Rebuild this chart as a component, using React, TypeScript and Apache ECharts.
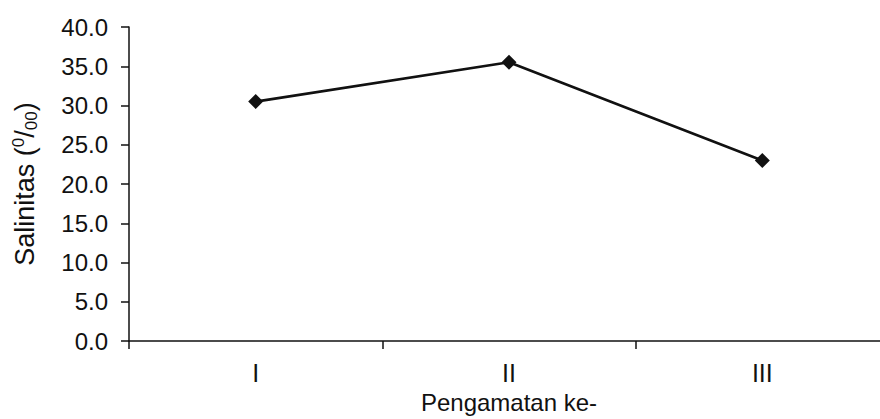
import React, { useEffect, useRef } from "react";
import * as echarts from "echarts";

const categories = ["I", "II", "III"];
const salinity = [30.5, 35.5, 23.0];
const yMin = 0;
const yMax = 40;
const yInterval = 5;

const FONT = "'Liberation Sans', Arial, sans-serif";

export default function App() {
  const ref = useRef<HTMLDivElement>(null);
  useEffect(() => {
    if (!ref.current) return;
    const chart = echarts.init(ref.current, undefined, { renderer: "svg" });
    const axisColor = "#111";
    chart.setOption({
      animation: false,
      backgroundColor: "#fff",
      grid: { left: 129, right: 1, top: 27, bottom: 73 },
      xAxis: {
        type: "category",
        data: categories,
        boundaryGap: true,
        axisLine: { lineStyle: { color: axisColor, width: 1.5 } },
        axisTick: { show: true, length: 8, inside: false, lineStyle: { color: axisColor, width: 1.5 } },
        axisLabel: {
          margin: 19,
          fontSize: 25,
          color: "#111",
          fontFamily: FONT,
        },
        name: "Pengamatan ke-",
        nameLocation: "middle",
        nameGap: 46,
        nameTextStyle: {
          fontSize: 24,
          color: "#111",
          fontFamily: FONT,
        },
        splitLine: { show: false },
      },
      yAxis: {
        type: "value",
        min: yMin,
        max: yMax,
        interval: yInterval,
        axisLine: { show: true, lineStyle: { color: axisColor, width: 1.5 } },
        axisTick: { show: true, length: 8, inside: false, lineStyle: { color: axisColor, width: 1.5 } },
        axisLabel: {
          margin: 21,
          fontSize: 24,
          color: "#111",
          fontFamily: FONT,
          formatter: (v: number) => v.toFixed(1),
        },
        splitLine: { show: false },
        name: "Salinitas ({sup|0}/{sub|00})",
        nameLocation: "middle",
        nameRotate: 90,
        nameGap: 89,
        nameTextStyle: {
          fontSize: 27,
          color: "#111",
          fontFamily: FONT,
          lineHeight: 30,
          rich: {
            sup: {
              fontSize: 17,
              color: "#111",
              fontFamily: FONT,
              verticalAlign: "top",
              lineHeight: 30,
            },
            sub: {
              fontSize: 17,
              color: "#111",
              fontFamily: FONT,
              verticalAlign: "bottom",
              lineHeight: 30,
            },
          },
        },
      },
      series: [
        {
          type: "line",
          data: salinity,
          symbol: "diamond",
          symbolSize: 15,
          itemStyle: { color: "#111" },
          lineStyle: { color: "#111", width: 2.6 },
        },
      ],
    });
    return () => chart.dispose();
  }, []);

  return (
    <div
      style={{
        position: "fixed",
        left: 0,
        top: 0,
        width: 880,
        height: 419,
        overflow: "hidden",
        background: "#fff",
      }}
    >
      <div ref={ref} style={{ width: 890, height: 419 }} />
    </div>
  );
}
